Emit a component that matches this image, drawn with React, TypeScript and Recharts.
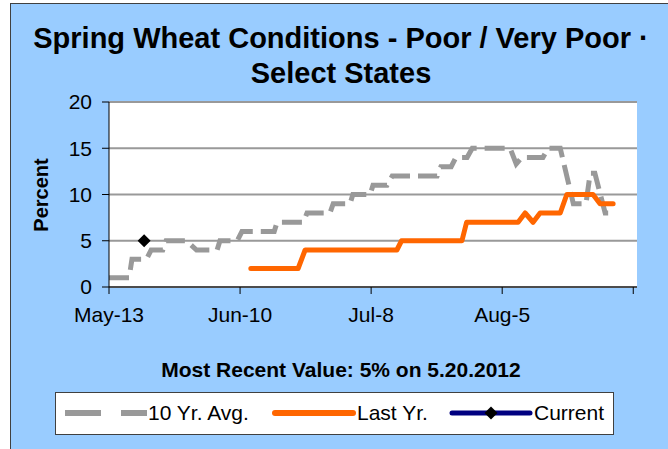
import { CartesianGrid, Line, LineChart, XAxis, YAxis } from 'recharts'

const FONT = '"Liberation Sans", Arial, sans-serif'

// x values are days after May-13
const tickDays = [0, 28, 56, 84, 112]
const tickLabels = ['May-13', 'Jun-10', 'Jul-8', 'Aug-5', '']
const yTicks = [0, 5, 10, 15, 20]

// 10 Yr. Avg. (breakpoints of the stepped line)
const avgDays = [
  0, 4.3, 4.9, 8, 9, 11.5, 12.2, 16.5, 18.7, 23.1, 23.7, 27.4, 28.4, 35.3, 35.9, 41.5, 42.3, 47.2, 47.9, 51.5, 52.1,
  55.8, 56.4, 59.4, 60.5, 70.1, 70.9, 73.1, 74.1, 76.5, 77.6, 85.7, 87, 88.2, 92.7, 93.8, 96.4, 99.2, 101.9, 102.8,
  103.8, 106, 107.7,
]
const avgVals = [
  1, 1, 3, 3, 4, 4, 5, 5, 4, 4, 5, 5, 6, 6, 7, 7, 8, 8, 9, 9, 10, 10, 11, 11, 12, 12, 13, 13, 14, 14, 15, 15, 13.3, 14,
  14, 15, 15, 9, 9, 12.3, 12.3, 8, 8,
]

// Last Yr.
const lastDays = [30.3, 40.4, 41.9, 61.5, 62.5, 75.4, 76.4, 87.4, 88.9, 90.6, 92.1, 96.4, 97.8, 103.4, 104.9, 107.7]
const lastVals = [2, 2, 4, 4, 5, 5, 7, 7, 8, 7, 8, 8, 10, 10, 9, 9]

// Current
const currentDays = [7.5]
const currentVals = [5]

const toRows = (days: number[], vals: number[]) => days.map((day, i) => ({ day, value: vals[i] }))

const avgRows = toRows(avgDays, avgVals)
const lastRows = toRows(lastDays, lastVals)
const currentRows = toRows(currentDays, currentVals)

function Diamond(props: { cx?: number; cy?: number; index?: number }) {
  const { cx, cy } = props
  if (cx == null || cy == null) return null
  const r = 6.5
  return (
    <path
      key={`d-${props.index ?? 0}`}
      d={`M${cx},${cy - r}L${cx + r},${cy}L${cx},${cy + r}L${cx - r},${cy}Z`}
      fill="#000"
    />
  )
}

const tickStyle = { fill: '#000', fontSize: 21, fontFamily: FONT }

export default function App() {
  return (
    <div
      style={{
        position: 'absolute',
        left: 0,
        top: 0,
        width: 668,
        height: 449,
        overflow: 'hidden',
        background: '#fff',
        fontFamily: FONT,
        color: '#000',
      }}
    >
      <div
        style={{
          position: 'absolute',
          left: 10,
          top: 3,
          width: 690,
          height: 480,
          background: '#99CCFF',
          border: '1px solid #404040',
        }}
      />

      <div
        style={{
          position: 'absolute',
          left: 0,
          top: 20.5,
          width: 682,
          textAlign: 'center',
          fontSize: 29,
          fontWeight: 'bold',
          lineHeight: '35px',
        }}
      >
        Spring Wheat Conditions - Poor / Very Poor ·
        <br />
        Select States
      </div>

      <div
        style={{
          position: 'absolute',
          left: -9,
          top: 183,
          width: 100,
          height: 24,
          lineHeight: '24px',
          textAlign: 'center',
          fontSize: 20,
          fontWeight: 'bold',
          transform: 'rotate(-90deg)',
        }}
      >
        Percent
      </div>

      <div style={{ position: 'absolute', left: 0, top: 0 }}>
        <LineChart width={668} height={449} margin={{ top: 102, right: 31, bottom: 132, left: 49 }}>
          <CartesianGrid vertical={false} stroke="#999" strokeWidth={2} fill="#fff" />
          <XAxis
            dataKey="day"
            type="number"
            domain={[0, 112.8]}
            ticks={tickDays}
            interval={0}
            allowDataOverflow
            tickFormatter={(v: number) => tickLabels[tickDays.indexOf(v)] ?? ''}
            axisLine={{ stroke: '#000' }}
            tickLine={{ stroke: '#000' }}
            tickSize={7}
            tickMargin={13}
            height={30}
            tick={tickStyle}
          />
          <YAxis
            type="number"
            domain={[0, 20]}
            ticks={yTicks}
            interval={0}
            axisLine={{ stroke: '#000' }}
            tickLine={{ stroke: '#000' }}
            tickSize={7}
            tickMargin={10}
            width={60}
            tick={tickStyle}
          />
          <Line
            data={avgRows}
            dataKey="value"
            name="10 Yr. Avg."
            type="linear"
            stroke="#999999"
            strokeWidth={5}
            strokeDasharray="20 8"
            dot={false}
            isAnimationActive={false}
          />
          <Line
            data={lastRows}
            dataKey="value"
            name="Last Yr."
            type="linear"
            stroke="#FF6600"
            strokeWidth={5}
            strokeLinejoin="round"
            strokeLinecap="round"
            dot={false}
            isAnimationActive={false}
          />
          <Line
            data={currentRows}
            dataKey="value"
            name="Current"
            type="linear"
            stroke="#000080"
            strokeWidth={4}
            dot={<Diamond />}
            isAnimationActive={false}
          />
        </LineChart>
      </div>

      <div
        style={{
          position: 'absolute',
          left: 0,
          top: 357.5,
          width: 682,
          textAlign: 'center',
          fontSize: 21,
          fontWeight: 'bold',
          lineHeight: '24px',
        }}
      >
        Most Recent Value: 5% on 5.20.2012
      </div>

      <div
        style={{
          position: 'absolute',
          left: 55,
          top: 392,
          width: 559,
          height: 43,
          boxSizing: 'border-box',
          background: '#fff',
          border: '1px solid #404040',
        }}
      />
      <svg style={{ position: 'absolute', left: 65, top: 404 }} width={82} height={18}>
        <line x1={0} y1={9} x2={82} y2={9} stroke="#999999" strokeWidth={6} strokeDasharray="36 20" />
      </svg>
      <div style={{ position: 'absolute', left: 148, top: 401, fontSize: 21, lineHeight: '24px' }}>10 Yr. Avg.</div>
      <svg style={{ position: 'absolute', left: 272, top: 404 }} width={84} height={18}>
        <line x1={3} y1={9} x2={81} y2={9} stroke="#FF6600" strokeWidth={6} strokeLinecap="round" />
      </svg>
      <div style={{ position: 'absolute', left: 357, top: 401, fontSize: 21, lineHeight: '24px' }}>Last Yr.</div>
      <svg style={{ position: 'absolute', left: 449, top: 404 }} width={84} height={18}>
        <line x1={3} y1={9} x2={81} y2={9} stroke="#000080" strokeWidth={5} strokeLinecap="round" />
        <path d="M42,2.5L48.5,9L42,15.5L35.5,9Z" fill="#000" />
      </svg>
      <div style={{ position: 'absolute', left: 534, top: 401, fontSize: 21, lineHeight: '24px' }}>Current</div>
    </div>
  )
}
